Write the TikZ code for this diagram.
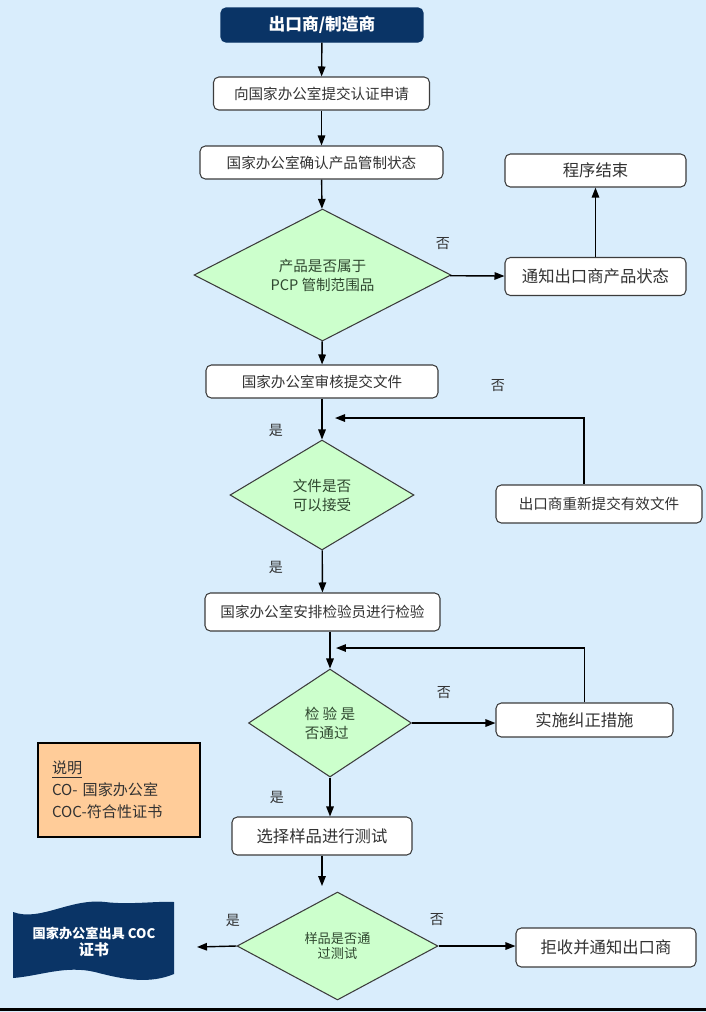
\documentclass[tikz,border=0pt]{standalone}
\usepackage{fontspec}
\setmainfont{Noto Sans CJK SC}
\usetikzlibrary{shapes.geometric,arrows.meta}

\definecolor{bgblue}{RGB}{217,237,252}
\definecolor{navy}{RGB}{10,52,102}
\definecolor{decgreen}{RGB}{204,255,204}
\definecolor{noteorange}{RGB}{255,204,153}
\definecolor{boxgray}{RGB}{60,60,60}
\definecolor{txtgray}{RGB}{50,50,50}
\definecolor{dectxt}{RGB}{48,72,48}

\begin{document}
\begin{tikzpicture}[x=0.02cm, y=-0.02cm, >={Triangle[length=0.2cm,width=0.15cm]}, line width=0.8pt]
\tikzset{
    pstart/.style= {rectangle, rounded corners=3pt, fill=navy, draw=navy, text=white, font=\fontsize{9.5}{11}\selectfont\bfseries, minimum width=4.04cm, minimum height=0.68cm},
    pstep/.style= {rectangle, rounded corners=3pt, fill=white, draw=boxgray, line width=0.6pt, text=txtgray, font=\fontsize{8.3}{10}\selectfont, minimum height=0.66cm},
    pbig/.style= {pstep, font=\fontsize{9.3}{11}\selectfont, minimum height=0.76cm},
    pdec/.style= {diamond, aspect=2, inner sep=0pt, fill=decgreen, draw=boxgray, line width=0.6pt, text=dectxt, align=center, font=\fontsize{8.3}{10.8}\selectfont},
    plab/.style= {text=txtgray, font=\fontsize{8}{10}\selectfont},
    pnote/.style= {rectangle, fill=noteorange, draw=black, line width=0.6pt, text=txtgray, align=left, text width=2.68cm, inner xsep=0.28cm, minimum width=3.24cm, minimum height=1.88cm, font=\fontsize{8.6}{12.4}\selectfont},
    pflow/.style= {->, draw=black},
}

% background and frame line
\useasboundingbox (0,0) rectangle (706,1012);
\fill[bgblue] (0,0) rectangle (706,1012);
\fill[black] (0,1008) rectangle (706,1011);

% certificate shape
\fill[navy] (13,912) .. controls (40,922) and (70,898) .. (105,902)
    .. controls (130,905) and (155,901) .. (174,902) -- (174,974)
    .. controls (150,984) and (125,980) .. (95,972)
    .. controls (65,965) and (40,976) .. (13,978) -- cycle;

\node[pstart] (start) at (322,25) {出口商/制造商};
\node[pstep, minimum width=4.32cm] (s1) at (321.5,93.5) {向国家办公室提交认证申请};
\node[pstep, minimum width=4.86cm] (s2) at (321.5,162.5) {国家办公室确认产品管制状态};
\node[pdec, minimum width=5.14cm, minimum height=2.64cm] (d1) at (322.5,275) {产品是否属于\\PCP 管制范围品};
\node[pbig, minimum width=3.62cm] (n1) at (595.5,276.5) {通知出口商产品状态};
\node[pbig, minimum width=3.62cm, minimum height=0.66cm] (e1) at (595.5,170.5) {程序结束};

\node[pstep, minimum width=4.64cm] (s3) at (322,381.5) {国家办公室审核提交文件};
\node[pdec, minimum width=3.68cm, minimum height=2.2cm] (d2) at (322,495) {文件是否\\可以接受};
\node[pstep, minimum width=4.12cm, minimum height=0.76cm] (r1) at (599,504) {出口商重新提交有效文件};

\node[pstep, minimum width=4.7cm, minimum height=0.76cm] (s4) at (322.5,612) {国家办公室安排检验员进行检验};
\node[pdec, minimum width=3.26cm, minimum height=2.16cm, align=left] (d3) at (330,723) {检 验 是\\否通过};
\node[pbig, minimum width=3.54cm, minimum height=0.68cm] (r2) at (584.5,720) {实施纠正措施};

\node[pbig, minimum width=3.6cm] (s5) at (322,836) {选择样品进行测试};
\node[pdec, minimum width=4.02cm, minimum height=2.16cm, font=\fontsize{7.5}{8.6}\selectfont] (d4) at (337.5,946) {样品是否通\\过测试};
\node[pbig, minimum width=3.6cm, minimum height=0.78cm] (r3) at (606,947.5) {拒收并通知出口商};
\node[text=white, align=center, font=\fontsize{7.5}{9.8}\selectfont\bfseries] (cert) at (94,942) {国家办公室出具 COC\\{\fontsize{8.6}{9.8}\selectfont 证书}};

\node[pnote] (note) at (119,790) {\underline{说明}\\CO- 国家办公室\\COC-符合性证书};

\node[plab] (l1) at (443,244) {否};
\node[plab] (l2) at (498,386) {否};
\node[plab] (l3) at (276,430) {是};
\node[plab] (l4) at (276,567) {是};
\node[plab] (l5) at (444,693) {否};
\node[plab] (l6) at (277,797) {是};
\node[plab] (l7) at (233,920) {是};
\node[plab] (l8) at (437,920) {否};

\coordinate (t1) at (335,418);
\coordinate (t2) at (336,648);
\coordinate (t4) at (322,886);
\coordinate (t5) at (197,947);

\draw
(start) edge[pflow] (s1)
(s1) edge[pflow] (s2)
(s2) edge[pflow] (d1)
(d1) edge[pflow] (n1)
(n1) edge[pflow] (e1)
(d1) edge[pflow] (s3)
(s3) edge[pflow] (d2)
(d2) edge[pflow] (s4)
(s4.south -| d3.north) edge[pflow] (d3.north)
(d3.east) edge[pflow] (d3.east -| r2.west)
(d3.south) edge[pflow] (d3.south |- s5.north)
(s5.south) edge[pflow] (t4)
(d4.west) edge[pflow] (t5)
(d4.east) edge[pflow] (d4.east -| r3.west);

% loops back
\draw[pflow] ([xshift=-0.3cm]r1.north) |- (t1);
\draw[pflow] (r2.north) |- (t2);
\end{tikzpicture}
\end{document}
